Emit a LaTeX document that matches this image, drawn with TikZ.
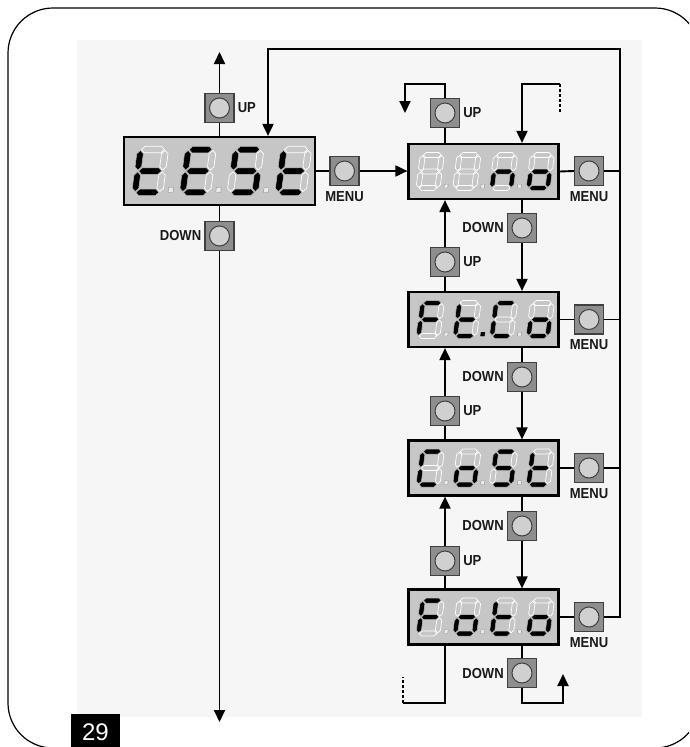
\documentclass[tikz,border=0pt]{standalone}
\usepackage{fontspec}
\setmainfont{Liberation Sans}
\usetikzlibrary{arrows.meta,positioning}

\definecolor{dispfill}{HTML}{C6C6C6}
\definecolor{btnfill}{HTML}{8E8E8E}
\definecolor{circfill}{HTML}{D0D0D0}
\definecolor{wmgray}{HTML}{F6F6F6}

\makeatletter
\newcommand{\segsty}[2]{\in@{#1}{#2}\ifin@\tikzset{sgs/.style={seglit}}\else\tikzset{sgs/.style={segoff}}\fi}
\newcommand{\dotsty}[2]{\in@{#1}{#2}\ifin@\tikzset{dts/.style={dotlit}}\else\tikzset{dts/.style={dotoff}}\fi}
\makeatother

\def\sgW{19}\def\sgH{33}\def\sgM{16.5}\def\sgT{2.5}\def\sgG{0.7}

\newcommand{\hseg}[3]{\filldraw[sgs] ({#1+\sgG},{#3}) -- ({#1+\sgG+\sgT},{#3-\sgT}) -- ({#2-\sgG-\sgT},{#3-\sgT}) -- ({#2-\sgG},{#3}) -- ({#2-\sgG-\sgT},{#3+\sgT}) -- ({#1+\sgG+\sgT},{#3+\sgT}) -- cycle;}
\newcommand{\vseg}[3]{\filldraw[sgs] ({#1},{#2+\sgG}) -- ({#1+\sgT},{#2+\sgG+\sgT}) -- ({#1+\sgT},{#3-\sgG-\sgT}) -- ({#1},{#3-\sgG}) -- ({#1-\sgT},{#3-\sgG-\sgT}) -- ({#1-\sgT},{#2+\sgG+\sgT}) -- cycle;}

\newcommand{\onedigit}[1]{%
  \segsty{a}{#1}\hseg{0}{\sgW}{-\sgH}%
  \segsty{g}{#1}\hseg{0}{\sgW}{-\sgM}%
  \segsty{d}{#1}\hseg{0}{\sgW}{0}%
  \segsty{f}{#1}\vseg{0}{-\sgH}{-\sgM}%
  \segsty{e}{#1}\vseg{0}{-\sgM}{0}%
  \segsty{b}{#1}\vseg{\sgW}{-\sgH}{-\sgM}%
  \segsty{c}{#1}\vseg{\sgW}{-\sgM}{0}%
}
\newcommand{\digitat}[5]{%
  \begin{scope}[shift={({#1+#3*(-65+36.7*#4)},{#2+#3*16.5})}, scale=#3, xslant=0.13]
    \onedigit{#5}%
  \end{scope}}
\newcommand{\dotat}[5]{%
  \dotsty{#4}{#5}%
  \begin{scope}[shift={({#1+#3*(-65+36.7*(#4-1))},{#2+#3*16.5})}, scale=#3, xslant=0.13]
    \filldraw[dts] (25.4,-3.8) rectangle (29.2,0);
  \end{scope}}
\newcommand{\digits}[8]{%
  \digitat{#1}{#2}{#3}{0}{#4}\digitat{#1}{#2}{#3}{1}{#5}%
  \digitat{#1}{#2}{#3}{2}{#6}\digitat{#1}{#2}{#3}{3}{#7}%
  \dotat{#1}{#2}{#3}{1}{#8}\dotat{#1}{#2}{#3}{2}{#8}\dotat{#1}{#2}{#3}{3}{#8}}

\tikzset{
  conn/.style={line width=1.9pt, black},
  arr/.style={conn, -{Triangle[length=12pt,width=11pt]}},
  dashline/.style={line width=1.9pt, dash pattern=on 3pt off 2pt},
  btn/.style={draw=black!75, line width=1.2pt, fill=btnfill, minimum size=29pt, inner sep=0pt,
    path picture={\draw[fill=circfill, draw=black!75, line width=1pt] (path picture bounding box.center) circle (10pt);}},
  disp/.style={draw=black, line width=2.2pt, fill=dispfill, minimum width=150pt, minimum height=55pt, inner sep=0pt},
  dispbig/.style={disp, minimum width=191pt, minimum height=68pt},
  lab/.style={font=\fontsize{14.5}{14.5}\selectfont\bfseries, xscale=0.9, inner sep=0pt, text=black!90},
  seglit/.style={fill=black, draw=white!75!black, line width=0.5pt},
  segoff/.style={fill=dispfill, draw=white, line width=0.7pt},
  dotlit/.style={fill=black, draw=black, line width=0.4pt},
  dotoff/.style={fill=white!92!black, draw=black!45, line width=0.4pt},
  frame/.style={line width=1.2pt, rounded corners=45pt},
}

\begin{document}
\begin{tikzpicture}[x=1pt, y=-1pt]
\useasboundingbox (0,0) rectangle (689,747);
\clip (0,0) rectangle (689,747);
\fill[white] (0,0) rectangle (689,747);
\fill[wmgray] (77,40) rectangle (642,717);
\draw[frame] (8,8) rectangle (700,748);

% displays
\node[dispbig] (T) at (219.5,171) {};
\node[disp] (N) at (483.5,171.5) {};
\node[disp] (F) at (483.5,319.5) {};
\node[disp] (C) at (483.5,468) {};
\node[disp] (O) at (483.5,617) {};

\digits{219.5}{171}{1.3}{fedg}{afged}{afgcd}{fedg}{0}
\digits{483.5}{171.5}{1}{}{}{egc}{cdeg}{0}
\digits{483.5}{319.5}{1}{afge}{fedg}{afed}{cdeg}{2}
\digits{483.5}{468}{1}{afed}{cdeg}{afgcd}{fedg}{0}
\digits{483.5}{617}{1}{afge}{cdeg}{fedg}{cdeg}{0}

% buttons
\node[btn] (UL) at (219.5,108) {};
\node[btn] (DL) at (219.5,236) {};
\node[btn] (ML) at (344.5,171) {};
\node[btn] (U0) at (445,113) {};
\node[btn] (D1) at (522,228) {};
\node[btn] (U1) at (445,262) {};
\node[btn] (D2) at (522,377) {};
\node[btn] (U2) at (445,411) {};
\node[btn] (D3) at (522,526) {};
\node[btn] (U3) at (445,561) {};
\node[btn] (D4) at (522,673) {};
\node[btn] (MR1) at (589,171) {};
\node[btn] (MR2) at (589,319.5) {};
\node[btn] (MR3) at (589,468) {};
\node[btn] (MR4) at (589,617) {};

% labels
\node[lab, right=3pt of UL] (lUL) {UP};
\node[lab, right=3pt of U0] (lU0) {UP};
\node[lab, right=3pt of U1] (lU1) {UP};
\node[lab, right=3pt of U2] (lU2) {UP};
\node[lab, right=3pt of U3] (lU3) {UP};
\node[lab, left=3pt of DL] (lDL) {DOWN};
\node[lab, left=3pt of D1] (lD1) {DOWN};
\node[lab, left=3pt of D2] (lD2) {DOWN};
\node[lab, left=3pt of D3] (lD3) {DOWN};
\node[lab, left=3pt of D4] (lD4) {DOWN};
\node[lab, below=5pt of ML] (lML) {MENU};
\node[lab, below=5pt of MR1] (lM1) {MENU};
\node[lab, below=5pt of MR2] (lM2) {MENU};
\node[lab, below=5pt of MR3] (lM3) {MENU};
\node[lab, below=5pt of MR4] (lM4) {MENU};

% page number
\fill[black] (71,714) rectangle (120,747);
\node[text=white, inner sep=0pt, font=\fontsize{24}{24}\selectfont] (pg) at (95.5,732) {29};

% coordinates
\coordinate (topL) at (219.5,52);
\coordinate (botL) at (219.5,722);
\coordinate (rt) at (620,49);
\coordinate (lt) at (268,49);
\coordinate (u0a) at (445,84);
\coordinate (u0b) at (405,84);
\coordinate (u0c) at (405,113);
\coordinate (d0a) at (560,112);
\coordinate (d0b) at (560,84);
\coordinate (d0c) at (522,84);
\coordinate (b1) at (445,703);
\coordinate (b2) at (403,703);
\coordinate (b3) at (403,677);
\coordinate (b4) at (522,703);
\coordinate (b5) at (563,703);
\coordinate (b6) at (563,674);

% left column
\draw[arr] (UL.north) -- (topL);
\draw[conn] (UL.south |- T.north) -- (UL.south);
\draw[conn] (DL.north |- T.south) -- (DL.north);
\draw[arr] (DL.south) -- (botL);
\draw[conn] (T.east) -- (ML.west);
\draw[arr] (ML.east) -- (ML.east -| N.west);

% outer loop
\draw[arr] (MR4.east) -- (MR4.east -| rt) -- (rt) -- (lt) -- (lt |- T.north);
\draw[conn] (MR1.east) -- (MR1.east -| rt);
\draw[conn] (MR2.east) -- (MR2.east -| rt);
\draw[conn] (MR3.east) -- (MR3.east -| rt);
\draw[conn] (N.east) -- (MR1.west);
\draw[conn] (F.east) -- (MR2.west);
\draw[conn] (C.east) -- (MR3.west);
\draw[conn] (O.east) -- (MR4.west);

% top of list
\draw[conn] (U0.south) -- (U0.south |- N.north);
\draw[arr] (U0.north) -- (u0a) -- (u0b) -- (u0c);
\draw[dashline] (d0a) -- (d0b);
\draw[arr] (d0b) -- (d0c) -- (d0c |- N.north);

% between rows
\draw[conn] (D1.north |- N.south) -- (D1.north);
\draw[arr] (D1.south) -- (D1.south |- F.north);
\draw[conn] (U1.south |- F.north) -- (U1.south);
\draw[arr] (U1.north) -- (U1.north |- N.south);

\draw[conn] (D2.north |- F.south) -- (D2.north);
\draw[arr] (D2.south) -- (D2.south |- C.north);
\draw[conn] (U2.south |- C.north) -- (U2.south);
\draw[arr] (U2.north) -- (U2.north |- F.south);

\draw[conn] (D3.north |- C.south) -- (D3.north);
\draw[arr] (D3.south) -- (D3.south |- O.north);
\draw[conn] (U3.south |- O.north) -- (U3.south);
\draw[arr] (U3.north) -- (U3.north |- C.south);

% bottom of list
\draw[conn] (b1 |- O.south) -- (b1) -- (b2);
\draw[dashline] (b2) -- (b3);
\draw[conn] (D4.north |- O.south) -- (D4.north);
\draw[arr] (D4.south) -- (b4) -- (b5) -- (b6);
\end{tikzpicture}
\end{document}
